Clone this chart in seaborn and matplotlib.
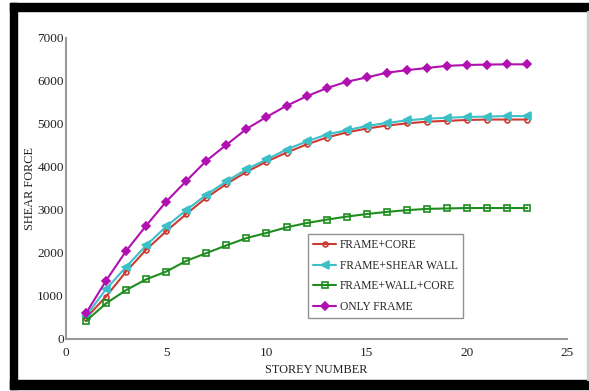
import matplotlib
matplotlib.use("Agg")
import matplotlib.pyplot as plt
from matplotlib.patches import Rectangle
import seaborn as sns
import pandas as pd

storey = list(range(1, 24))
frame_core = [480, 980, 1560, 2070, 2500, 2900, 3280, 3600, 3880, 4120, 4330, 4520,
              4680, 4800, 4890, 4960, 5010, 5050, 5070, 5090, 5100, 5100, 5100]
frame_shear_wall = [530, 1150, 1670, 2170, 2610, 2990, 3350, 3660, 3940, 4170, 4400, 4590,
                    4750, 4850, 4950, 5020, 5080, 5120, 5140, 5160, 5170, 5180, 5180]
frame_wall_core = [410, 820, 1130, 1380, 1560, 1810, 1990, 2170, 2340, 2460, 2590, 2690,
                   2770, 2840, 2900, 2950, 2990, 3020, 3030, 3040, 3040, 3040, 3040]
only_frame = [590, 1350, 2040, 2630, 3190, 3670, 4140, 4510, 4880, 5160, 5420, 5640,
              5830, 5980, 6080, 6190, 6250, 6300, 6350, 6370, 6380, 6385, 6385]

series_names = ["FRAME+CORE", "FRAME+SHEAR WALL", "FRAME+WALL+CORE", "ONLY FRAME"]
series_values = [frame_core, frame_shear_wall, frame_wall_core, only_frame]
colors = ["#cc3a32", "#3cc0c8", "#1e8c1e", "#b010b0"]
markers = ["o", "<", "s", "D"]
marker_sizes = [3.5, 5.5, 5, 4.5]
x_ticks = [0, 5, 10, 15, 20, 25]
y_ticks = [0, 1000, 2000, 3000, 4000, 5000, 6000, 7000]

sns.set_theme(style="white")
plt.rcParams["font.family"] = ["Liberation Serif", "DejaVu Serif"]

fig = plt.figure(figsize=(5.89, 3.91), dpi=100)
ax = fig.add_axes([0.112, 0.134, 0.851, 0.769])

for name, vals, c, m, ms in zip(series_names, series_values, colors, markers, marker_sizes):
    df = pd.DataFrame({"storey": storey, "force": vals})
    filled = m in ("<", "D")
    sns.lineplot(data=df, x="storey", y="force", ax=ax, color=c, marker=m,
                 markersize=ms, linewidth=1.5, label=name,
                 markerfacecolor=c if filled else "none", markeredgecolor=c,
                 markeredgewidth=1.2)

ax.set_xlim(0, 25)
ax.set_ylim(0, 7000)
ax.set_xticks(x_ticks)
ax.set_yticks(y_ticks)
ax.set_xticklabels([str(t) for t in x_ticks])
ax.set_yticklabels([str(t) for t in y_ticks])
ax.set_xlabel("STOREY NUMBER", fontsize=8.8, labelpad=4, color="#222222")
ax.set_ylabel("SHEAR FORCE", fontsize=8.8, labelpad=1, color="#222222")
ax.tick_params(axis="both", direction="in", length=4, width=1, colors="#999999",
               labelcolor="#222222", labelsize=9.5)
ax.tick_params(axis="y", pad=1.5)
ax.tick_params(axis="x", pad=6)
for s in ["top", "right"]:
    ax.spines[s].set_visible(False)
for s in ["left", "bottom"]:
    ax.spines[s].set_color("#999999")
    ax.spines[s].set_linewidth(1.5)

leg = ax.legend(loc="upper left", bbox_to_anchor=(0.483, 0.348), borderaxespad=0,
                fontsize=8.3, frameon=True, fancybox=False, handlelength=2.0,
                handletextpad=0.3, borderpad=0.45, labelspacing=0.75)
leg.get_frame().set_edgecolor("#777777")
leg.get_frame().set_linewidth(1.0)

# black picture frame
W, H = 589.0, 391.0
fig.add_artist(Rectangle((10 / W, 1 - 11 / H), 1, 8 / H, transform=fig.transFigure,
                         color="black", zorder=10))
fig.add_artist(Rectangle((10 / W, 2 / H), 7 / W, 1 - 5 / H, transform=fig.transFigure,
                         color="black", zorder=10))
fig.add_artist(Rectangle((10 / W, 2 / H), 1, 9 / H, transform=fig.transFigure,
                         color="black", zorder=10))
fig.add_artist(Rectangle((1 - 2 / W, 11 / H), 1 / W, 1 - 22 / H, transform=fig.transFigure,
                         color="#cccccc", zorder=10))

fig.savefig("out.png", dpi=100)
